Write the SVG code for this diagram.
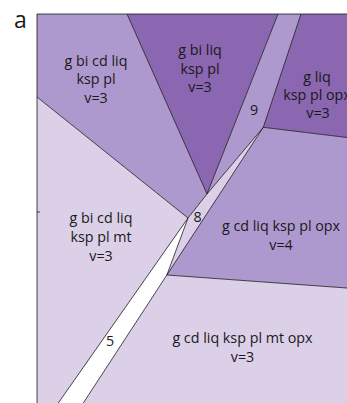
<svg xmlns="http://www.w3.org/2000/svg" width="347" height="403" viewBox="0 0 347 403">
  <style>
    .dark { fill: #8b66b1; }
    .mid { fill: #ae99cf; }
    .light { fill: #dbd0e8; }
    .blank { fill: #ffffff; }
    .edge { fill: none; stroke: #1a1a1a; stroke-width: 0.8; stroke-linejoin: round; }
    text { font-family: "Open Sans", "Noto Sans", sans-serif; font-size: 14.3px; fill: #1a1a1a; text-anchor: middle; }
    .panel { font-size: 23px; }
  </style>
  <rect width="347" height="403" fill="#ffffff"/>

  <!-- stability fields -->
  <g id="fields">
    <polygon id="f-gbicdliq-ksppl" class="mid" points="37,14 127,14 207,194 188,218 37,97"/>
    <polygon id="f-gbiliq-ksppl" class="dark" points="127,14 278,14 207,194"/>
    <polygon id="f-9" class="mid" points="278,14 301,14 263.3,127.3 207,194"/>
    <polygon id="f-gliq-ksppl-opx" class="dark" points="301,14 347,14 347,137.5 263.3,127.3"/>
    <polygon id="f-8" class="light" points="263.3,127.3 207,194 188,218 166.9,275"/>
    <polygon id="f-gcdliq-ksppl-opx" class="mid" points="263.3,127.3 347,137.5 347,288 166.9,275"/>
    <polygon id="f-gcdliq-ksppl-mt-opx" class="light" points="166.9,275 347,288 347,403 83.3,403"/>
    <polygon id="f-5" class="blank" points="188,218 166.9,275 83.3,403 58.3,403"/>
    <polygon id="f-gbicdliq-ksppl-mt" class="light" points="37,97 188,218 58.3,403 37,403"/>
  </g>

  <!-- field boundaries -->
  <g id="boundaries" class="edge">
    <polyline points="37,403 37,14 347,14"/>
    <line x1="37" y1="212" x2="40" y2="212"/>
    <line x1="127" y1="14" x2="207" y2="194"/>
    <line x1="278" y1="14" x2="207" y2="194"/>
    <polyline points="301,14 263.3,127.3 347,137.5"/>
    <polyline points="263.3,127.3 207,194 188,218 58.3,403"/>
    <line x1="263.3" y1="127.3" x2="83.3" y2="403"/>
    <line x1="37" y1="97" x2="188" y2="218"/>
    <line x1="188" y1="218" x2="166.9" y2="275"/>
    <line x1="166.9" y1="275" x2="347" y2="288"/>
  </g>

  <!-- field labels -->
  <g id="labels">
    <text class="panel" x="20.5" y="28">a</text>
    <g id="l-gbicdliq-ksppl">
      <text x="96" y="65.5">g bi cd liq</text>
      <text x="96" y="84">ksp pl</text>
      <text x="96" y="102.5">v=3</text>
    </g>
    <g id="l-gbiliq-ksppl">
      <text x="200" y="55">g bi liq</text>
      <text x="200" y="73.5">ksp pl</text>
      <text x="200" y="92">v=3</text>
    </g>
    <g id="l-gliq-ksppl-opx">
      <text x="317" y="81.5">g liq</text>
      <text x="317" y="99.5">ksp pl opx</text>
      <text x="318" y="117.5">v=3</text>
    </g>
    <text id="l-9" x="254" y="115">9</text>
    <text id="l-8" x="197.5" y="222">8</text>
    <g id="l-gbicdliq-ksppl-mt">
      <text x="101" y="223.3">g bi cd liq</text>
      <text x="101" y="241.7">ksp pl mt</text>
      <text x="101" y="260.7">v=3</text>
    </g>
    <g id="l-gcdliq-ksppl-opx">
      <text x="281" y="231">g cd liq ksp pl opx</text>
      <text x="281" y="250">v=4</text>
    </g>
    <g id="l-gcdliq-ksppl-mt-opx">
      <text x="242.5" y="343">g cd liq ksp pl mt opx</text>
      <text x="242.5" y="362">v=3</text>
    </g>
    <text id="l-5" x="110" y="346">5</text>
  </g>
</svg>
